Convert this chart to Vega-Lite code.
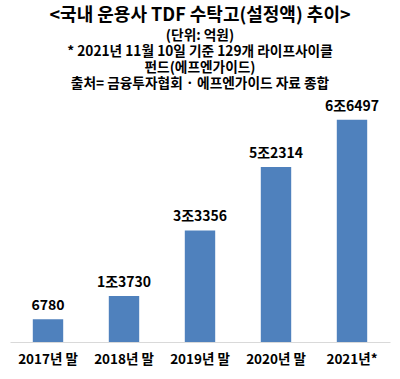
{
  "$schema": "https://vega.github.io/schema/vega-lite/v6.json",
  "autosize": {"type": "none"},
  "width": 380,
  "height": 234,
  "padding": {"left": 10, "top": 108, "right": 10, "bottom": 37},
  "background": "white",
  "config": {"view": {"stroke": null}, "font": "Noto Sans CJK KR"},
  "title": {
    "text": "<국내 운용사 TDF 수탁고(설정액) 추이>",
    "subtitle": ["(단위: 억원)", "* 2021년 11월 10일 기준 129개 라이프사이클", "펀드(에프엔가이드)", "출처= 금융투자협회 · 에프엔가이드 자료 종합"],
    "anchor": "middle",
    "frame": "group",
    "font": "Noto Sans CJK KR",
    "fontSize": 18,
    "fontWeight": "bold",
    "color": "black",
    "subtitleFont": "Noto Sans CJK KR",
    "subtitleFontSize": 13.7,
    "subtitleFontWeight": "bold",
    "subtitleColor": "black",
    "subtitleLineHeight": 16,
    "subtitlePadding": 4,
    "offset": 9
  },
  "data": {
    "values": [
      {"year": "2017년 말", "value": 6780, "label": "6780"},
      {"year": "2018년 말", "value": 13730, "label": "1조3730"},
      {"year": "2019년 말", "value": 33356, "label": "3조3356"},
      {"year": "2020년 말", "value": 52314, "label": "5조2314"},
      {"year": "2021년*", "value": 66497, "label": "6조6497"}
    ]
  },
  "encoding": {
    "x": {
      "field": "year", "type": "nominal", "sort": null,
      "scale": {"paddingInner": 0.6, "paddingOuter": 0.3},
      "axis": {
        "title": null, "labelAngle": 0, "ticks": false,
        "domainColor": "#d9d9d9", "domainWidth": 1,
        "labelFont": "Noto Sans CJK KR", "labelFontSize": 13.5, "labelFontWeight": "bold",
        "labelColor": "black", "labelPadding": 10
      }
    },
    "y": {
      "field": "value", "type": "quantitative",
      "scale": {"domain": [0, 70000], "nice": false},
      "axis": null
    }
  },
  "layer": [
    {"mark": {"type": "bar", "color": "#4f81bd"}},
    {
      "mark": {"type": "text", "baseline": "bottom", "dy": -6, "fontSize": 14, "fontWeight": "bold", "color": "black", "font": "Noto Sans CJK KR"},
      "encoding": {"text": {"field": "label"}}
    }
  ]
}
